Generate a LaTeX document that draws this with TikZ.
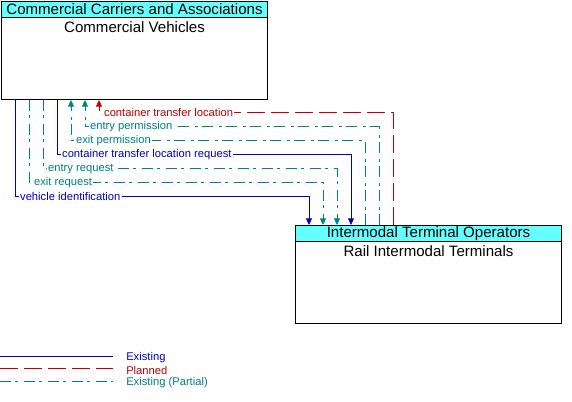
\documentclass[tikz,border=0pt]{standalone}
\usepackage{fontspec}
\setmainfont{Liberation Sans}
\usetikzlibrary{arrows.meta,positioning}
\definecolor{cabecera}{RGB}{102,255,255}
\definecolor{azulex}{RGB}{0,0,192}
\definecolor{rojopl}{RGB}{192,0,0}
\definecolor{verdepa}{RGB}{0,128,128}
\tikzset{
  ent/.style={draw, line width=0.75pt, minimum width=199.5pt, minimum height=73.5pt,
              anchor=north west, inner sep=0pt},
  hdr/.style={draw, line width=0.75pt, fill=cabecera, minimum width=199.5pt, minimum height=12pt,
              anchor=north west, inner sep=0pt, font=\fontsize{11.3}{12}\selectfont},
  nom/.style={inner sep=1pt, font=\fontsize{11.3}{12}\selectfont},
  existente/.style={color=azulex, line width=0.75pt},
  planeado/.style={color=rojopl, line width=0.75pt, dash pattern=on 13.5pt off 4.5pt},
  parcial/.style={color=verdepa, line width=0.75pt,
                  dash pattern=on 8pt off 3.5pt on 2pt off 4.5pt},
  flecha/.style={-{Triangle[length=5pt,width=4.5pt]}},
  etiq/.style={anchor=west, font=\fontsize{8.4}{9}\selectfont, inner sep=1pt, fill=white, xshift=2.5pt},
  ley/.style={anchor=west, font=\fontsize{8.4}{9}\selectfont, inner sep=0pt}
}
\begin{document}
\begin{tikzpicture}[x=0.75pt,y=-0.75pt]
\useasboundingbox (0,0) rectangle (572,402);
% entidades
\node[ent] (cv) at (1,1) {};
\node[hdr] (cvh) at (cv.north west) {Commercial Carriers and Associations};
\node[nom, below=1.5pt of cvh] (cvn) {Commercial Vehicles};
\node[ent] (rit) at (295,225) {};
\node[hdr] (rith) at (rit.north west) {Intermodal Terminal Operators};
\node[nom, below=1.5pt of rith] (ritn) {Rail Intermodal Terminals};

% flujos hacia las terminales
\draw[existente,flecha] (cv.south -| 15,0) -- (15,197) node[etiq]{vehicle identification} -| (rit.north -| 309,0);
\draw[parcial,flecha] (cv.south -| 29,0) -- (29,183) node[etiq]{exit request} -| (rit.north -| 323,0);
\draw[parcial,flecha] (cv.south -| 43,0) -- (43,169) node[etiq]{entry request} -| (rit.north -| 337,0);
\draw[existente,flecha] (cv.south -| 57,0) -- (57,155) node[etiq]{container transfer location request} -| (rit.north -| 351,0);
% flujos hacia los vehiculos
\draw[parcial,flecha] (rit.north -| 365,0) |- (71,141) node[etiq]{exit permission} -- (cv.south -| 71,0);
\draw[parcial,flecha] (rit.north -| 379,0) |- (85,127) node[etiq]{entry permission} -- (cv.south -| 85,0);
\draw[planeado,flecha] (rit.north -| 393,0) |- (99,113) node[etiq]{container transfer location} -- (cv.south -| 99,0);

% leyenda
\node[ley, text=azulex] (l1) at (126,358) {Existing};
\node[ley, text=rojopl] (l2) at (126,370) {Planned};
\node[ley, text=verdepa] (l3) at (126,383) {Existing (Partial)};
\draw[existente] (0,357) -- (113,357);
\draw[planeado] (0,369) -- (113,369);
\draw[parcial] (0,382) -- (113,382);
\end{tikzpicture}
\end{document}
